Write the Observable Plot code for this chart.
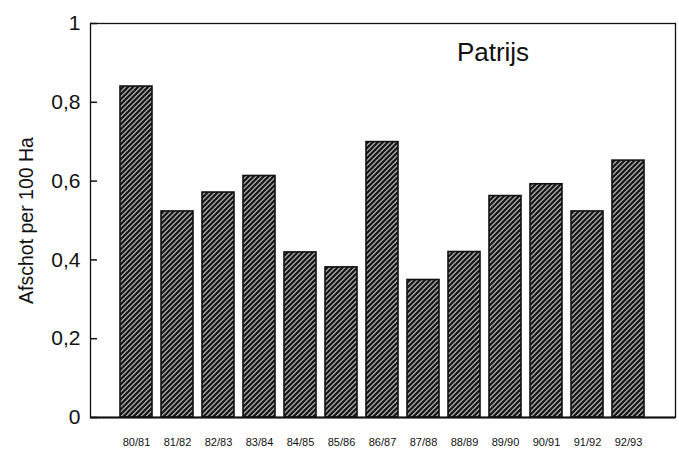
<!DOCTYPE html>
<html>
<head>
<meta charset="utf-8">
<script src="https://cdn.jsdelivr.net/npm/d3@7"></script>
<script src="https://cdn.jsdelivr.net/npm/@observablehq/plot@0.6"></script>
<style>
  html, body { margin: 0; padding: 0; background: #fff; }
  #chart svg { display: block; }
</style>
</head>
<body>
<div id="chart"></div>
<script>
const seasons = ["80/81","81/82","82/83","83/84","84/85","85/86","86/87","87/88","88/89","89/90","90/91","91/92","92/93"];
const values  = [0.84, 0.523, 0.571, 0.613, 0.419, 0.381, 0.699, 0.349, 0.420, 0.562, 0.592, 0.523, 0.652];
const yTicks  = [0, 0.2, 0.4, 0.6, 0.8, 1];
const yLabel  = "Afschot per 100 Ha";
const title   = "Patrijs";

const data = seasons.map((s, i) => ({season: s, value: values[i]}));
const fmt = d => String(d).replace(".", ",");

const svg = Plot.plot({
  width: 679,
  height: 450,
  marginLeft: 90,
  marginRight: 4,
  marginTop: 23,
  marginBottom: 33,
  style: {fontFamily: "'Liberation Sans', Arial, sans-serif", color: "#111", background: "#fff"},
  x: {domain: seasons, paddingInner: 0.21, paddingOuter: 0.66, label: null},
  y: {domain: [0, 1], label: null},
  marks: [
    Plot.barY(data, {x: "season", y: "value", fill: "url(#hatch)", stroke: "#111", strokeWidth: 1.6}),
    Plot.frame({stroke: "#111", strokeWidth: 1.3}),
    Plot.ruleY([0], {stroke: "#111", strokeWidth: 2}),
    Plot.axisY(yTicks, {tickSize: -7, tickPadding: 17, tickFormat: fmt, fontSize: 21, strokeWidth: 1.5, label: null}),
    Plot.axisX({tickSize: 0, tickPadding: 21, fontSize: 11, label: null}),
    Plot.text([yLabel], {frameAnchor: "left", textAnchor: "middle", dx: -64, rotate: -90, fontSize: 19.5, fill: "#111"}),
    Plot.text([title], {frameAnchor: "top", dx: 110, dy: 19, fontSize: 26, fill: "#111"})
  ]
});

const ns = "http://www.w3.org/2000/svg";
const defs = document.createElementNS(ns, "defs");
defs.innerHTML = `
  <pattern id="hatch" patternUnits="userSpaceOnUse" width="5" height="5">
    <rect width="5" height="5" fill="#a8a8a8"></rect>
    <path d="M-1,1 l2,-2 M0,5 l5,-5 M4,6 l2,-2" stroke="#151515" stroke-width="2.2"></path>
  </pattern>`;
svg.insertBefore(defs, svg.firstChild);
document.getElementById("chart").appendChild(svg);
</script>
</body>
</html>
